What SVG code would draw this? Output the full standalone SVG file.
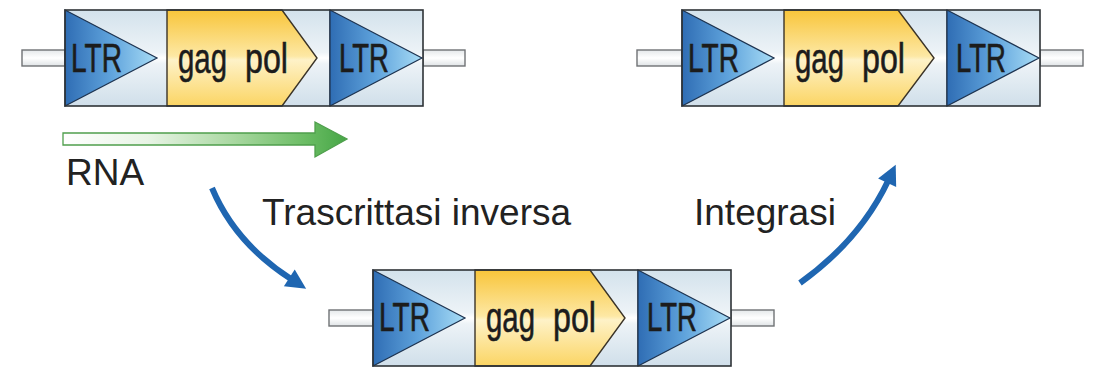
<svg xmlns="http://www.w3.org/2000/svg" width="1099" height="369" viewBox="0 0 1099 369">
  <defs>
    <linearGradient id="gBg" x1="0" y1="0" x2="0" y2="1">
      <stop offset="0" stop-color="#d3e2ec"/>
      <stop offset="0.44" stop-color="#edf3f7"/>
      <stop offset="0.5" stop-color="#ffffff"/>
      <stop offset="0.56" stop-color="#edf3f7"/>
      <stop offset="1" stop-color="#d0dfea"/>
    </linearGradient>
    <linearGradient id="gLtr" x1="0" y1="0" x2="1" y2="0">
      <stop offset="0" stop-color="#2f6db4"/>
      <stop offset="0.5" stop-color="#5fa3dc"/>
      <stop offset="1" stop-color="#a8dcf5"/>
    </linearGradient>
    <linearGradient id="gGag" x1="0" y1="0" x2="0" y2="1">
      <stop offset="0" stop-color="#f8c53a"/>
      <stop offset="0.48" stop-color="#fde8a4"/>
      <stop offset="0.52" stop-color="#fef2c8"/>
      <stop offset="1" stop-color="#fbd564"/>
    </linearGradient>
    <linearGradient id="gStub" x1="0" y1="0" x2="0" y2="1">
      <stop offset="0" stop-color="#e4e8ea"/>
      <stop offset="0.5" stop-color="#ffffff"/>
      <stop offset="1" stop-color="#dfe3e6"/>
    </linearGradient>
    <linearGradient id="gRna" x1="63" y1="0" x2="347" y2="0" gradientUnits="userSpaceOnUse">
      <stop offset="0" stop-color="#ffffff"/>
      <stop offset="0.3" stop-color="#e8f4e5"/>
      <stop offset="0.6" stop-color="#a9d8a1"/>
      <stop offset="0.85" stop-color="#6cbd65"/>
      <stop offset="1" stop-color="#46a646"/>
    </linearGradient>
    <marker id="blueHead" markerUnits="userSpaceOnUse" markerWidth="24" markerHeight="24" viewBox="0 -12 22 24" refX="2" refY="0" orient="auto">
      <path d="M0,-10 L20,0 L0,10 z" fill="#1f66b1"/>
    </marker>
    <style>
      .stub { fill: url(#gStub); stroke: #6f7275; stroke-width: 1.4; }
      .bg { fill: url(#gBg); }
      .frame { fill: none; stroke: #2e3236; stroke-width: 1.6; }
      .ltr { fill: url(#gLtr); stroke: #1d3350; stroke-width: 1.2; stroke-linejoin: miter; }
      .gag { fill: url(#gGag); stroke: #3a3328; stroke-width: 1.4; }
      .sep { stroke: #2e3236; stroke-width: 1.4; }
      .lbl { font-family: "Liberation Sans", Arial, sans-serif; font-size: 40px; fill: #1c1c1c; stroke: #1c1c1c; stroke-width: 0.6; }
      .gp { font-size: 43px; }
      .cap { font-family: "Liberation Sans", Arial, sans-serif; font-size: 37px; fill: #222222; }
      .bend { fill: none; stroke: #1f66b1; stroke-width: 6; marker-end: url(#blueHead); }
    </style>
  </defs>

  <g id="provirus-top-left" transform="translate(65,10)">
    <rect class="stub" x="-43" y="40" width="43" height="16"/>
    <rect class="stub" x="358" y="40" width="42" height="16"/>
    <rect class="bg" x="0" y="0" width="358" height="96"/>
    <polygon class="ltr" points="0,0 92,48 0,96"/>
    <polygon class="gag" points="102,0 217,0 252,48 217,96 102,96"/>
    <line class="sep" x1="265" y1="0" x2="265" y2="96"/>
    <polygon class="ltr" points="265,0 357,48 265,96"/>
    <rect class="frame" x="0" y="0" width="358" height="96"/>
    <text class="lbl" x="6" y="62" textLength="51" lengthAdjust="spacingAndGlyphs">LTR</text>
    <text class="lbl" x="274" y="62" textLength="50" lengthAdjust="spacingAndGlyphs">LTR</text>
    <text class="lbl gp" y="63"><tspan x="113" textLength="49" lengthAdjust="spacingAndGlyphs">gag</tspan> <tspan x="180" textLength="43" lengthAdjust="spacingAndGlyphs">pol</tspan></text>
  </g>

  <g id="provirus-top-right" transform="translate(682,10)">
    <rect class="stub" x="-45" y="40" width="45" height="16"/>
    <rect class="stub" x="358" y="40" width="43" height="16"/>
    <rect class="bg" x="0" y="0" width="358" height="96"/>
    <polygon class="ltr" points="0,0 92,48 0,96"/>
    <polygon class="gag" points="102,0 216,0 252,48 216,96 102,96"/>
    <line class="sep" x1="265" y1="0" x2="265" y2="96"/>
    <polygon class="ltr" points="265,0 357,48 265,96"/>
    <rect class="frame" x="0" y="0" width="358" height="96"/>
    <text class="lbl" x="6" y="62" textLength="51" lengthAdjust="spacingAndGlyphs">LTR</text>
    <text class="lbl" x="274" y="62" textLength="50" lengthAdjust="spacingAndGlyphs">LTR</text>
    <text class="lbl gp" y="63"><tspan x="113" textLength="49" lengthAdjust="spacingAndGlyphs">gag</tspan> <tspan x="180" textLength="43" lengthAdjust="spacingAndGlyphs">pol</tspan></text>
  </g>

  <g id="provirus-bottom" transform="translate(373,270)">
    <rect class="stub" x="-44" y="40" width="44" height="16"/>
    <rect class="stub" x="358" y="40" width="43" height="16"/>
    <rect class="bg" x="0" y="0" width="358" height="96"/>
    <polygon class="ltr" points="0,0 92,48 0,96"/>
    <polygon class="gag" points="102,0 217,0 252,48 217,96 102,96"/>
    <line class="sep" x1="265" y1="0" x2="265" y2="96"/>
    <polygon class="ltr" points="265,0 357,48 265,96"/>
    <rect class="frame" x="0" y="0" width="358" height="96"/>
    <text class="lbl" x="6" y="61" textLength="51" lengthAdjust="spacingAndGlyphs">LTR</text>
    <text class="lbl" x="274" y="61" textLength="50" lengthAdjust="spacingAndGlyphs">LTR</text>
    <text class="lbl gp" y="62"><tspan x="113" textLength="49" lengthAdjust="spacingAndGlyphs">gag</tspan> <tspan x="180" textLength="43" lengthAdjust="spacingAndGlyphs">pol</tspan></text>
  </g>

  <g id="rna">
    <polygon points="63,133 315,133 315,122 347,139 315,157 315,145 63,145" fill="url(#gRna)" stroke="#4f9f4c" stroke-width="1.3" stroke-linejoin="miter"/>
    <text class="cap" x="66" y="185">RNA</text>
  </g>

  <g id="connectors">
    <path class="bend" d="M212,188 Q235,243 291,279"/>
    <path class="bend" d="M800,283 Q860,240 888,181"/>
  </g>

  <g id="labels">
    <text class="cap" x="262" y="225">Trascrittasi inversa</text>
    <text class="cap" x="694" y="225">Integrasi</text>
  </g>
</svg>
